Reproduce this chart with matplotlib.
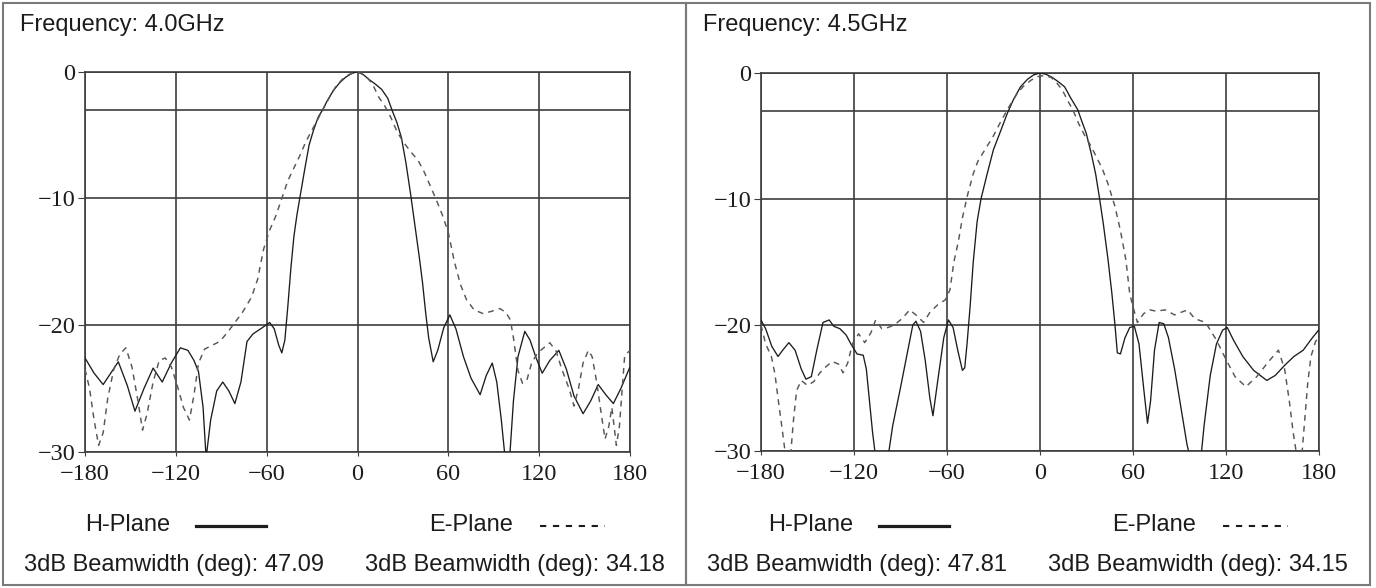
import matplotlib
matplotlib.use("Agg")
import matplotlib.pyplot as plt
from matplotlib.lines import Line2D
from matplotlib.patches import Rectangle

# ---- data (deg, dB) ----
X_TICKS = [-180, -120, -60, 0, 60, 120, 180]
X_LABELS = ["\u2212180", "\u2212120", "\u221260", "0", "60", "120", "180"]
Y_TICKS = [0, -10, -20, -30]
Y_LABELS = ["0", "\u221210", "\u221220", "\u221230"]
REF_LINE_DB = -3

freq_labels = ["Frequency: 4.0GHz", "Frequency: 4.5GHz"]
h_beamwidth = [47.09, 47.81]
e_beamwidth = [34.18, 34.15]

# 4.0 GHz, H-plane (solid)
h1_deg = [-180, -174, -168, -163, -158, -152, -147, -141, -135, -129, -123, -117, -112, -108,
          -105, -102, -100, -97, -93, -89, -85, -81, -77, -73, -69, -64, -58, -55, -52, -50,
          -48, -46, -44, -42, -40, -38, -35, -32, -29, -26, -23, -20, -16, -12, -8, -4, 0,
          4, 8, 12, 16, 20, 23, 26, 29, 32, 35, 38, 41, 43, 45, 47, 50, 53, 57, 61, 65, 70,
          75, 81, 85, 89, 92, 95, 97.5, 100.5, 103, 106, 110.5, 114, 118, 122, 127, 133, 138,
          143, 149, 154, 159, 164, 169, 174, 180]
h1_db = [-22.6, -23.8, -24.7, -23.8, -22.9, -24.8, -26.8, -25.0, -23.4, -24.5, -23.0, -21.8,
         -22.0, -22.8, -23.7, -26.5, -30.5, -27.5, -25.2, -24.5, -25.2, -26.2, -24.5, -21.3,
         -20.7, -20.3, -19.8, -20.3, -21.6, -22.2, -21.2, -18.5, -15.5, -13.0, -11.3, -9.9,
         -7.8, -5.8, -4.6, -3.6, -3.0, -2.3, -1.5, -0.9, -0.45, -0.15, 0.0, -0.25, -0.65,
         -1.0, -1.4, -2.1, -3.1, -4.0, -5.2, -7.2, -9.6, -12.2, -14.8, -16.7, -19.0, -21.0,
         -22.9, -22.0, -20.2, -19.2, -20.3, -22.5, -24.2, -25.5, -24.0, -23.0, -24.5, -27.5,
         -30.5, -30.5, -26.0, -22.5, -20.5, -21.2, -22.6, -23.8, -22.8, -22.0, -23.5, -25.6,
         -27.0, -26.0, -24.7, -25.5, -26.2, -25.0, -23.3]

# 4.0 GHz, E-plane (dashed)
e1_deg = [-180, -177, -174, -171, -168, -165, -161, -157, -153, -149, -145, -142, -139, -135,
          -131, -127, -123, -119, -115, -111, -108, -105, -101, -96, -91, -86, -81, -76, -70,
          -66, -62, -58, -54, -50, -46, -42, -38, -34, -30, -26, -22, -18, -14, -10, -6, -2,
          2, 6, 10, 14, 18, 22, 26, 30, 35, 40, 44, 48, 52, 56, 60, 64, 68, 72, 77, 83, 89,
          94, 98, 101, 103, 106, 109, 112, 115, 119, 123, 127, 131, 135, 140, 143, 146, 149,
          152.5, 155, 158, 161, 163.5, 166, 168, 171, 173, 176.5, 180]
e1_db = [-23.5, -25.0, -27.5, -29.5, -28.5, -25.8, -23.5, -22.3, -21.8, -23.3, -26.0, -28.3,
         -27.0, -24.5, -22.8, -22.6, -23.3, -24.8, -26.5, -27.5, -25.5, -23.0, -21.9, -21.6,
         -21.3, -20.6, -19.8, -19.0, -17.8, -16.4, -14.0, -12.5, -11.4, -10.0, -8.6, -7.6,
         -6.6, -5.5, -4.6, -3.7, -2.8, -1.9, -1.1, -0.6, -0.25, -0.05, -0.1, -0.4, -1.0,
         -2.0, -2.7, -3.6, -4.7, -5.5, -6.3, -7.0, -7.9, -9.0, -10.1, -11.3, -12.7, -15.0,
         -16.8, -18.0, -18.8, -19.1, -18.9, -18.7, -19.0, -19.6, -21.0, -23.6, -24.6, -24.3,
         -23.0, -22.2, -21.8, -21.4, -22.0, -23.5, -25.1, -26.4, -25.0, -23.0, -22.0, -22.5,
         -24.5, -27.0, -29.0, -28.0, -26.5, -29.5, -28.0, -22.4, -22.0]

# 4.5 GHz, H-plane (solid)
h2_deg = [-180, -177, -173, -169, -166, -162, -158, -154, -151, -147.5, -144, -140, -136,
          -133, -129, -125, -122, -118, -114, -112, -110, -108, -106, -98, -95, -90, -86, -82,
          -80, -77, -74, -71, -69, -66, -62, -59, -56, -53, -50, -48.5, -47, -45, -43, -40.5,
          -38, -34, -30, -25, -21, -17, -12.5, -8, -4, 0, 4, 8, 12, 16, 20, 24.4, 27, 30, 33,
          36, 38.6, 41, 44, 46.5, 48.5, 50, 52, 55, 58, 61, 64, 67, 69.5, 71.5, 74, 77, 80,
          83, 87, 91, 95, 97, 104, 106, 110, 114, 118, 121, 125, 131, 138, 146.5, 152, 158,
          164, 170, 176, 180]
h2_db = [-19.6, -20.3, -21.7, -22.5, -22.0, -21.4, -22.0, -23.5, -24.3, -24.1, -22.0, -19.8,
         -19.6, -20.1, -20.3, -20.8, -21.5, -22.3, -22.4, -23.5, -26.0, -28.5, -30.5, -30.5,
         -28.0, -25.0, -22.5, -20.0, -19.7, -20.5, -22.8, -25.8, -27.2, -24.5, -21.0, -19.6,
         -20.2, -22.0, -23.6, -23.4, -21.5, -18.5, -15.0, -11.8, -10.0, -8.0, -6.1, -4.5,
         -3.2, -2.1, -1.1, -0.5, -0.15, 0.0, -0.1, -0.35, -0.7, -1.1, -2.0, -2.9, -3.8, -4.8,
         -6.3, -8.0, -10.0, -12.0, -14.8, -17.5, -20.0, -22.2, -22.3, -21.0, -20.2, -20.1,
         -21.5, -25.0, -27.8, -26.0, -22.0, -19.8, -19.9, -21.0, -23.5, -26.5, -29.5, -30.5,
         -30.5, -28.0, -24.0, -21.5, -20.4, -20.2, -21.2, -22.5, -23.6, -24.4, -24.0, -23.2,
         -22.5, -22.0, -21.0, -20.4]

# 4.5 GHz, E-plane (dashed)
e2_deg = [-180, -177, -173.3, -171, -168.6, -166.3, -164, -161, -159, -157, -154, -150, -146,
          -142, -138, -134, -130, -127, -124, -121, -117, -113, -109, -106, -102, -98, -94,
          -89, -84, -80, -75, -71, -66, -61, -58, -55.5, -52.5, -50, -46.5, -43, -40, -35,
          -30, -25, -20, -15, -11, -6, -2, 3, 7.3, 11, 14.5, 18, 21.6, 25, 28.7, 33, 37, 40,
          44, 48.5, 52, 55.5, 58, 60, 63, 67, 71, 75, 81, 87, 91, 95.4, 100, 107, 114, 120,
          126, 133, 140, 147, 154, 158, 161, 163.5, 166, 169, 171, 173, 175, 178, 180]
e2_db = [-20.0, -21.5, -22.5, -23.9, -26.2, -28.3, -30.5, -30.5, -27.5, -25.2, -24.4, -24.8,
         -24.5, -23.8, -23.3, -22.9, -23.1, -23.8, -23.0, -21.5, -20.7, -21.4, -20.6, -19.6,
         -20.3, -20.2, -20.0, -19.5, -18.8, -19.2, -19.8, -19.0, -18.4, -18.0, -17.2, -15.0,
         -13.3, -11.5, -9.6, -8.0, -7.0, -6.0, -5.0, -3.8, -2.7, -1.7, -1.1, -0.6, -0.3,
         -0.2, -0.35, -0.8, -1.35, -2.2, -3.0, -4.0, -4.9, -5.8, -6.8, -7.5, -8.8, -10.6,
         -12.5, -14.8, -17.5, -18.5, -19.8, -19.1, -18.8, -18.9, -18.8, -19.2, -19.0, -18.8,
         -19.5, -19.8, -21.2, -22.7, -24.1, -24.9, -24.1, -23.0, -22.0, -23.5, -26.0, -28.5,
         -30.5, -30.5, -27.5, -24.5, -22.5, -21.3, -21.0]

W, H = 1376, 588
GRID = "#3d3d3d"
INK = "#1c1c1c"


def fig_box(left, top, right, bottom):
    return [left / W, 1 - bottom / H, (right - left) / W, (bottom - top) / H]


def draw_pattern(fig, rect, h_deg, h_db, e_deg, e_db):
    ax = fig.add_axes(rect)
    ax.set_axisbelow(True)
    ax.plot(h_deg, h_db, color=INK, lw=0.95, zorder=3)
    ax.plot(e_deg, e_db, color="#575757", lw=1.05, linestyle=(0, (4, 3.5)), zorder=3)
    ax.axhline(REF_LINE_DB, color=GRID, lw=1.2, zorder=1)
    ax.set_xlim(-180, 180)
    ax.set_ylim(-30, 0)
    ax.set_xticks(X_TICKS, X_LABELS)
    ax.set_yticks(Y_TICKS, Y_LABELS)
    for lab in ax.get_xticklabels() + ax.get_yticklabels():
        lab.set_fontfamily("Liberation Serif")
        lab.set_fontsize(17.5)
        lab.set_color(INK)
    ax.grid(True, color=GRID, lw=1.2)
    for s in ax.spines.values():
        s.set_color(GRID)
        s.set_linewidth(1.2)
    ax.tick_params(axis="x", length=3, pad=5.5, color=GRID)
    ax.tick_params(axis="y", length=5, pad=2, color=GRID)
    return ax


def draw_captions(fig, x0, freq, hbw, ebw):
    txt = dict(fontsize=17, family="Liberation Sans", color=INK, va="center", ha="left")
    fig.text((x0 + 17) / W, 1 - 25 / H, freq, **txt)
    fig.text((x0 + 82) / W, 1 - 525 / H, "H-Plane", **txt)
    fig.text((x0 + 426) / W, 1 - 525 / H, "E-Plane", **txt)
    fig.text((x0 + 21) / W, 1 - 565 / H, f"3dB Beamwidth (deg): {hbw:.2f}", **txt)
    fig.text((x0 + 362) / W, 1 - 565 / H, f"3dB Beamwidth (deg): {ebw:.2f}", **txt)
    y = 1 - 526 / H
    fig.add_artist(Line2D([(x0 + 193) / W, (x0 + 263) / W], [y, y],
                          transform=fig.transFigure, color=INK, lw=2.3))
    fig.add_artist(Line2D([(x0 + 537) / W, (x0 + 602) / W], [y, y],
                          transform=fig.transFigure, color=INK, lw=1.5,
                          linestyle=(0, (3, 3.2))))


fig = plt.figure(figsize=(W / 100, H / 100), dpi=100)
fig.patch.set_facecolor("white")

draw_pattern(fig, fig_box(85, 71.7, 630, 451.7), h1_deg, h1_db, e1_deg, e1_db)
draw_pattern(fig, fig_box(761, 73, 1318.7, 451), h2_deg, h2_db, e2_deg, e2_db)

draw_captions(fig, 3, freq_labels[0], h_beamwidth[0], e_beamwidth[0])
draw_captions(fig, 686, freq_labels[1], h_beamwidth[1], e_beamwidth[1])

for left, right in [(3, 686), (686, 1370)]:
    fig.add_artist(Rectangle((left / W, 1 - 585 / H), (right - left) / W, 582 / H,
                             transform=fig.transFigure, fill=False,
                             edgecolor="#7a7a7a", lw=1.5))

fig.savefig("out.png", dpi=100, facecolor="white")
plt.close(fig)
